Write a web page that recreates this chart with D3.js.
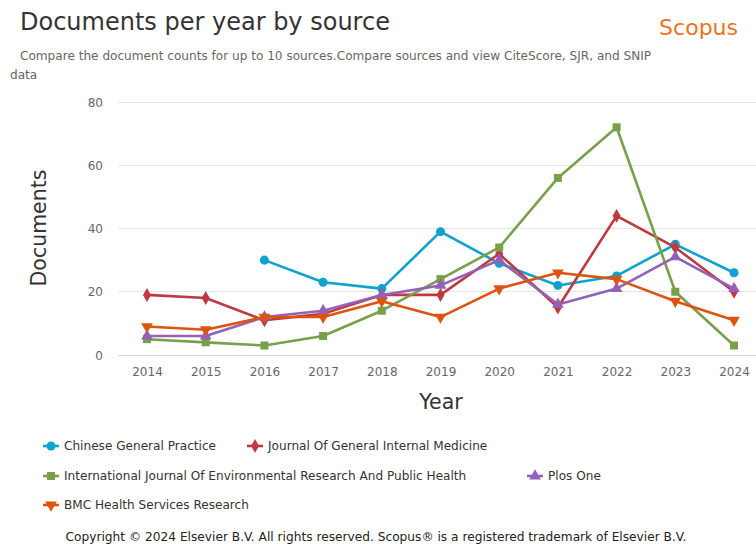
<!DOCTYPE html>
<html>
<head>
<meta charset="utf-8">
<script src="https://cdn.jsdelivr.net/npm/d3@7"></script>
<style>
  html, body { margin: 0; padding: 0; background: #fff; }
  svg { display: block; font-family: "DejaVu Sans", sans-serif; }
</style>
</head>
<body>
<svg id="chart" width="756" height="544"></svg>
<script>
const years = [2014, 2015, 2016, 2017, 2018, 2019, 2020, 2021, 2022, 2023, 2024];
const yTicks = [0, 20, 40, 60, 80];

const chineseGeneralPractice = [null, null, 30, 23, 21, 39, 29, 22, 25, 35, 26];
const journalGeneralInternalMedicine = [19, 18, 11, 13, 19, 19, 32, 15, 44, 34, 20];
const ijerph = [5, 4, 3, 6, 14, 24, 34, 56, 72, 20, 3];
const plosOne = [6, 6, 12, 14, 19, 22, 30, 16, 21, 31, 21];
const bmcHealthServicesResearch = [9, 8, 12, 12, 17, 12, 21, 26, 24, 17, 11];

const seriesNames = [
  "Chinese General Practice",
  "Journal Of General Internal Medicine",
  "International Journal Of Environmental Research And Public Health",
  "Plos One",
  "BMC Health Services Research"
];
const seriesValues = [chineseGeneralPractice, journalGeneralInternalMedicine, ijerph, plosOne, bmcHealthServicesResearch];
const seriesColors = ["#0ea2cf", "#bd3a3f", "#78a04b", "#9460b8", "#dd5410"];
const seriesSymbols = [d3.symbolCircle, d3.symbolDiamond, d3.symbolSquare, d3.symbolTriangle, d3.symbolTriangle];
const symbolRotate = [0, 0, 0, 0, 180];
const symbolSizes = [64, 56, 64, 60, 60];

const svg = d3.select("#chart");
const W = 756, H = 544;

const x = d3.scalePoint().domain(years).range([147, 734]);
const y = d3.scaleLinear().domain([0, 80]).range([355, 102]);

// Title
svg.append("text").attr("x", 20).attr("y", 30).attr("font-size", 24).attr("fill", "#333")
  .text("Documents per year by source");
svg.append("text").attr("x", 738).attr("y", 35).attr("text-anchor", "end")
  .attr("font-size", 22).attr("fill", "#ea7325").text("Scopus");
svg.append("text").attr("x", 20).attr("y", 60).attr("font-size", 12.1).attr("fill", "#666")
  .text("Compare the document counts for up to 10 sources.Compare sources and view CiteScore, SJR, and SNIP");
svg.append("text").attr("x", 10).attr("y", 79).attr("font-size", 12.1).attr("fill", "#666")
  .text("data");

// Grid
const grid = svg.append("g");
yTicks.forEach(t => {
  grid.append("line").attr("x1", 118).attr("x2", W).attr("y1", y(t)).attr("y2", y(t))
    .attr("stroke", t === 0 ? "#ccd6eb" : "#e6e6e6").attr("stroke-width", 1)
    .attr("shape-rendering", "crispEdges");
});

// Y axis
const yAxis = d3.axisLeft(y).tickValues(yTicks).tickSize(0).tickPadding(0);
const yg = svg.append("g").attr("transform", "translate(103,0)").call(yAxis);
yg.select(".domain").remove();
yg.selectAll("text").attr("font-size", 12).attr("fill", "#666").attr("font-family", "DejaVu Sans, sans-serif").attr("dy", "0.35em");

// X axis
const xAxis = d3.axisBottom(x).tickSize(0).tickPadding(0).tickFormat(d3.format("d"));
const xg = svg.append("g").attr("transform", "translate(0,368)").call(xAxis);
xg.select(".domain").remove();
xg.selectAll("text").attr("font-size", 12).attr("fill", "#666").attr("font-family", "DejaVu Sans, sans-serif").attr("dy", "0.7em");

// Axis titles
svg.append("text").attr("transform", "translate(46,228) rotate(-90)").attr("text-anchor", "middle")
  .attr("font-size", 20.5).attr("fill", "#333").text("Documents");
svg.append("text").attr("x", 441).attr("y", 409).attr("text-anchor", "middle")
  .attr("font-size", 20.5).attr("fill", "#333").text("Year");

// Series
const line = d3.line().defined(d => d.v !== null).x(d => x(d.year)).y(d => y(d.v));
seriesValues.forEach((vals, i) => {
  const data = years.map((yr, j) => ({ year: yr, v: vals[j] }));
  const g = svg.append("g");
  g.append("path").datum(data).attr("d", line).attr("fill", "none")
    .attr("stroke", seriesColors[i]).attr("stroke-width", 2.6).attr("stroke-linejoin", "round");
  g.selectAll("path.pt").data(data.filter(d => d.v !== null)).join("path").attr("class", "pt")
    .attr("d", d3.symbol().type(seriesSymbols[i]).size(symbolSizes[i]))
    .attr("transform", d => `translate(${x(d.year)},${y(d.v)}) rotate(${symbolRotate[i]})`)
    .attr("fill", seriesColors[i]);
});

// Legend
const legendItems = [
  { i: 0, lx: 43, ly: 446 },
  { i: 1, lx: 247, ly: 446 },
  { i: 2, lx: 43, ly: 476 },
  { i: 3, lx: 527, ly: 476 },
  { i: 4, lx: 43, ly: 505 }
];
legendItems.forEach(it => {
  const g = svg.append("g").attr("transform", `translate(${it.lx},${it.ly})`);
  g.append("line").attr("x1", 0).attr("x2", 16).attr("y1", 0).attr("y2", 0)
    .attr("stroke", seriesColors[it.i]).attr("stroke-width", 2.6);
  g.append("path").attr("d", d3.symbol().type(seriesSymbols[it.i]).size(symbolSizes[it.i]))
    .attr("transform", `translate(8,0) rotate(${symbolRotate[it.i]})`).attr("fill", seriesColors[it.i]);
  g.append("text").attr("x", 21).attr("y", 0).attr("dy", "0.35em").attr("font-size", 12.1)
    .attr("fill", "#333").text(seriesNames[it.i]);
});

// Copyright
svg.append("text").attr("x", 376).attr("y", 541).attr("text-anchor", "middle")
  .attr("font-size", 12.2).attr("fill", "#222")
  .text("Copyright © 2024 Elsevier B.V. All rights reserved. Scopus® is a registered trademark of Elsevier B.V.");
</script>
</body>
</html>
